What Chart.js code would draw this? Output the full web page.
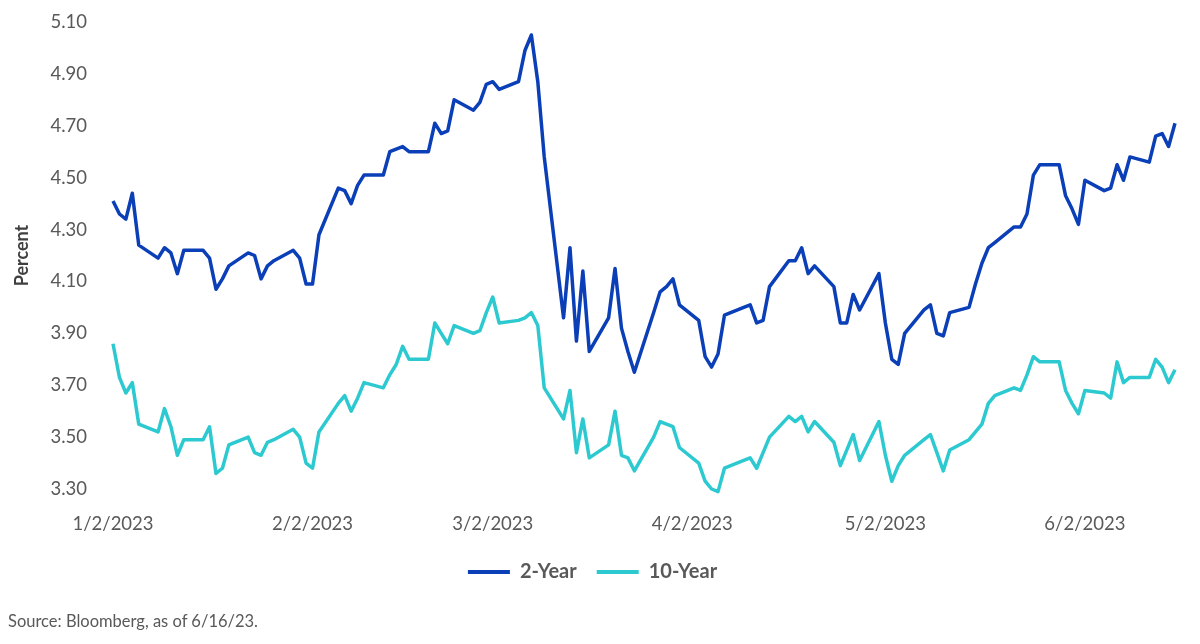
<!DOCTYPE html>
<html>
<head>
<meta charset="utf-8">
<title>2-Year vs 10-Year</title>
<script src="https://cdn.jsdelivr.net/npm/chart.js@4.4.0/dist/chart.umd.min.js"></script>
<style>
  html, body { margin: 0; padding: 0; background: #fff; }
  #wrap { position: relative; width: 1200px; height: 644px; }
  #source { position: absolute; left: 8px; top: 611px; font: 16.5px Lato, sans-serif; color: #595959; }
</style>
</head>
<body>
<div id="wrap">
  <canvas id="chart" width="1200" height="644"></canvas>
  <div id="source">Source: Bloomberg, as of 6/16/23.</div>
</div>
<script>
// ── Data (one value per weekday, 1/2/2023 – 6/16/2023) ──
const twoYear = [
  4.41, 4.36, 4.34, 4.44, 4.24,
  4.19, 4.23, 4.21, 4.13, 4.22,
  4.22, 4.19, 4.07, 4.11, 4.16,
  4.21, 4.20, 4.11, 4.16, 4.18,
  4.22, 4.19, 4.09, 4.09, 4.28,
  4.46, 4.45, 4.40, 4.47, 4.51,
  4.51, 4.60, 4.61, 4.62, 4.60,
  4.60, 4.71, 4.67, 4.68, 4.80,
  4.76, 4.79, 4.86, 4.87, 4.84,
  4.87, 4.99, 5.05, 4.87, 4.58,
  3.96, 4.23, 3.87, 4.14, 3.83,
  3.96, 4.15, 3.92, 3.83, 3.75,
  3.98, 4.06, 4.08, 4.11, 4.01,
  3.95, 3.81, 3.77, 3.82, 3.97,
  4.00, 4.01, 3.94, 3.95, 4.08,
  4.18, 4.18, 4.23, 4.13, 4.16,
  4.08, 3.94, 3.94, 4.05, 3.99,
  4.13, 3.94, 3.80, 3.78, 3.90,
  3.99, 4.01, 3.90, 3.89, 3.98,
  4.00, 4.09, 4.17, 4.23, 4.25,
  4.31, 4.31, 4.36, 4.51, 4.55,
  4.55, 4.43, 4.38, 4.32, 4.49,
  4.45, 4.46, 4.55, 4.49, 4.58,
  4.56, 4.66, 4.67, 4.62, 4.71,
];

const tenYear = [
  3.86, 3.73, 3.67, 3.71, 3.55,
  3.52, 3.61, 3.54, 3.43, 3.49,
  3.49, 3.54, 3.36, 3.38, 3.47,
  3.50, 3.44, 3.43, 3.48, 3.49,
  3.53, 3.50, 3.40, 3.38, 3.52,
  3.63, 3.66, 3.60, 3.65, 3.71,
  3.69, 3.74, 3.78, 3.85, 3.80,
  3.80, 3.94, 3.90, 3.86, 3.93,
  3.90, 3.91, 3.98, 4.04, 3.94,
  3.95, 3.96, 3.98, 3.93, 3.69,
  3.57, 3.68, 3.44, 3.57, 3.42,
  3.47, 3.60, 3.43, 3.42, 3.37,
  3.50, 3.56, 3.55, 3.54, 3.46,
  3.40, 3.33, 3.30, 3.29, 3.38,
  3.41, 3.42, 3.38, 3.44, 3.50,
  3.58, 3.56, 3.58, 3.52, 3.56,
  3.48, 3.39, 3.45, 3.51, 3.41,
  3.56, 3.43, 3.33, 3.39, 3.43,
  3.49, 3.51, 3.44, 3.37, 3.45,
  3.49, 3.52, 3.55, 3.63, 3.66,
  3.69, 3.68, 3.74, 3.81, 3.79,
  3.79, 3.68, 3.63, 3.59, 3.68,
  3.67, 3.65, 3.79, 3.71, 3.73,
  3.73, 3.80, 3.77, 3.71, 3.76,
];

// x axis is days since 1/2/2023 (a Monday)
const xTickDays = [0, 31, 59, 90, 120, 151];
const xTickLabels = ['1/2/2023', '2/2/2023', '3/2/2023', '4/2/2023', '5/2/2023', '6/2/2023'];
const yTickValues = [3.3, 3.5, 3.7, 3.9, 4.1, 4.3, 4.5, 4.7, 4.9, 5.1];
const lastDay = 165;

// weekdays only
const weekdays = [];
for (let d = 0; d <= lastDay; d++) if (d % 7 < 5) weekdays.push(d);

const toPoints = vals => vals.map((v, i) => ({ x: weekdays[i], y: v }));

// ── Chart ──────────────────────────────────────────────
const FONT = 'Lato, "Open Sans", sans-serif';
const GREY = '#595959';

function series(label, vals, color) {
  return {
    label,
    data: toPoints(vals),
    borderColor: color,
    backgroundColor: color,
    borderWidth: 3.5,
    pointBorderWidth: 4,   // used by the legend's line sample
    pointBorderColor: color,
    clip: 8,
  };
}

new Chart(document.getElementById('chart'), {
  type: 'line',
  data: {
    datasets: [
      series('2-Year', twoYear, '#0B3FB7'),
      series('10-Year', tenYear, '#2CCAD0'),
    ],
  },
  options: {
    responsive: false,
    animation: false,
    devicePixelRatio: 1,
    layout: { padding: { top: 22, right: 25, bottom: 52, left: 10 } },
    elements: {
      point: { radius: 0 },
      line: { tension: 0, borderJoinStyle: 'round' },
    },
    plugins: {
      tooltip: { enabled: false },
      legend: {
        position: 'bottom',
        labels: {
          usePointStyle: true,
          pointStyle: 'line',
          pointStyleWidth: 42,
          padding: 20,
          color: GREY,
          font: { family: FONT, size: 20, weight: 'bold' },
        },
      },
    },
    scales: {
      x: {
        type: 'linear',
        min: 0,
        max: lastDay,
        grid: { display: false },
        border: { display: false },
        afterBuildTicks: s => { s.ticks = xTickDays.map(v => ({ value: v })); },
        afterFit: s => { s.height = 53; },
        ticks: {
          padding: 16,
          maxRotation: 0,
          autoSkip: false,
          color: GREY,
          font: { family: FONT, size: 18.5 },
          callback: v => xTickLabels[xTickDays.indexOf(v)],
        },
      },
      y: {
        min: 3.3,
        max: 5.1,
        grid: { display: false },
        border: { display: false },
        afterBuildTicks: s => { s.ticks = yTickValues.map(v => ({ value: v })); },
        afterFit: s => {
          s.width = 103;
          // tick padding would otherwise push the plot top down
          s.paddingTop = 0;
          s.paddingBottom = 0;
        },
        title: {
          display: true,
          text: 'Percent',
          color: '#404040',
          font: { family: FONT, size: 18, weight: 'bold' },
          padding: { top: 1, bottom: 0 },
        },
        ticks: {
          padding: 18,
          color: GREY,
          font: { family: FONT, size: 18.5 },
          callback: v => v.toFixed(2),
        },
      },
    },
  },
});
</script>
</body>
</html>
